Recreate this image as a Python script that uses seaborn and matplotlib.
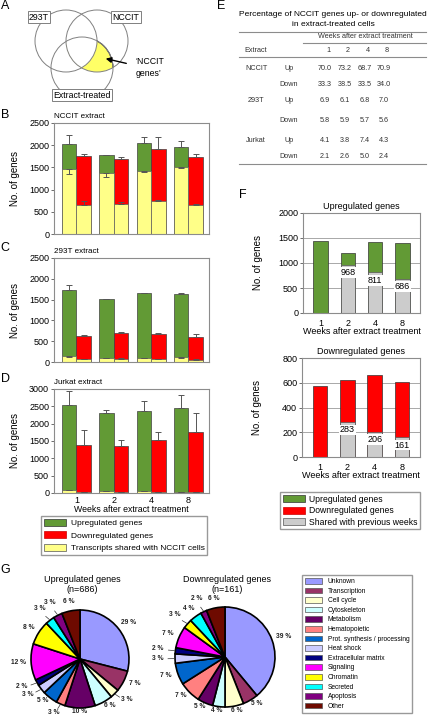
import numpy as np
import pandas as pd
import matplotlib
matplotlib.use("Agg")
import matplotlib.pyplot as plt
import seaborn as sns
from matplotlib.patches import Circle, Patch
from matplotlib.lines import Line2D

# ---------------- data ----------------
weeks = ['1', '2', '4', '8']

# B: NCCIT extract
b_up = [2035, 1775, 2045, 1960]
b_up_err = [200, 15, 135, 140]
b_up_shared = [1465, 1365, 1425, 1500]
b_up_shared_err = [105, 75, 35, 20]
b_down = [1755, 1700, 1920, 1725]
b_down_err = [50, 25, 270, 80]
b_down_shared = [648, 685, 753, 648]
b_down_shared_err = [90, 35, 20, 22]

# C: 293T extract
c_up = [1730, 1510, 1655, 1640]
c_up_err = [130, 10, 15, 8]
c_up_shared = [135, 100, 105, 110]
c_up_shared_err = [10, 10, 10, 10]
c_down = [636, 700, 668, 612]
c_down_err = [25, 15, 30, 50]
c_down_shared = [65, 80, 65, 60]
c_down_shared_err = [5, 5, 5, 5]

# D: Jurkat extract
d_up = [2530, 2310, 2360, 2450]
d_up_err = [420, 95, 280, 370]
d_up_shared = [90, 60, 60, 30]
d_up_shared_err = [10, 8, 8, 5]
d_down = [1375, 1350, 1540, 1760]
d_down_err = [450, 170, 230, 560]
d_down_shared = [30, 30, 30, 20]
d_down_shared_err = [5, 5, 5, 5]

# E: table
table_extracts = ['NCCIT', '293T', 'Jurkat']
table_dirs = ['Up', 'Down']
table_values = [
    ['70.0', '73.2', '68.7', '70.9'],
    ['33.3', '38.5', '33.5', '34.0'],
    ['6.9', '6.1', '6.8', '7.0'],
    ['5.8', '5.9', '5.7', '5.6'],
    ['4.1', '3.8', '7.4', '4.3'],
    ['2.1', '2.6', '5.0', '2.4'],
]

# F
f_up_total = [1430, 1190, 1410, 1390]
f_up_shared = [0, 968, 811, 686]
f_down_total = [570, 622, 664, 605]
f_down_shared = [0, 283, 206, 161]

# G
categories = ['Unknown', 'Transcription', 'Cell cycle', 'Cytoskeleton', 'Metabolism',
              'Hematopoietic', 'Prot. synthesis / processing', 'Heat shock',
              'Extracellular matrix', 'Signaling', 'Chromatin', 'Secreted',
              'Apoptosis', 'Other']
up_pct = [29, 7, 3, 6, 10, 3, 5, 3, 2, 12, 8, 3, 3, 6]
down_pct = [39, 5, 6, 4, 5, 7, 7, 3, 2, 7, 3, 4, 2, 6]
cat_colors = ['#9999ff', '#993366', '#ffffcc', '#ccffff', '#660066', '#ff8080',
              '#0066cc', '#ccccff', '#000080', '#ff00ff', '#ffff00', '#00ffff',
              '#800080', '#6e0a00']

GREEN = '#629a35'
RED = '#ff0000'
YELLOW = '#ffff88'
GRAY = '#cccccc'
SPINE = '#8c8c8c'

# ---------------- figure ----------------
plt.rcParams['font.family'] = ['Liberation Sans', 'DejaVu Sans']
W, H = 432, 717
fig = plt.figure(figsize=(W / 100, H / 100), dpi=100)


def fx(x):
    return x / W


def fy(y):
    return 1 - y / H


def axrect(l, t, r, b):
    return [l / W, 1 - b / H, (r - l) / W, (b - t) / H]


ov = fig.add_axes([0, 0, 1, 1])
ov.set_xlim(0, W)
ov.set_ylim(H, 0)
ov.axis('off')

# panel letters
for lab, (x, y) in {'A': (5, 6), 'B': (5, 115), 'C': (5, 248), 'D': (5, 379),
                    'E': (221, 6), 'F': (243, 195), 'G': (5, 570)}.items():
    ov.text(x, y, lab, fontsize=9, ha='center', va='center')

# ---------------- A: Venn ----------------
c293 = Circle((66, 41), 31, fill=False, ec='#808080', lw=0.7, zorder=5)
cnc = Circle((97, 41), 31, fill=False, ec='#808080', lw=0.7, zorder=5)
cex = Circle((82, 68), 31, fill=False, ec='#808080', lw=0.7, zorder=5)
for c in (c293, cnc, cex):
    ov.add_patch(c)
yel = Circle((82, 68), 31, fc='#ffff66', ec='#333333', lw=0.8, zorder=2)
ov.add_patch(yel)
yel.set_clip_path(cnc)
wh = Circle((66, 41), 31, fc='white', ec='none', zorder=3)
ov.add_patch(wh)
wh.set_clip_path(cnc)
for txt, (x, y) in {'293T': (39, 17), 'NCCIT': (126, 17), 'Extract-treated': (82, 95)}.items():
    ov.text(x, y, txt, fontsize=6.3, ha='center', va='center', zorder=6,
            bbox=dict(boxstyle='square,pad=0.15', fc='white', ec='#808080', lw=0.7))
ov.annotate('', xy=(103, 58), xytext=(129, 64),
            arrowprops=dict(arrowstyle='-|>', color='black', lw=1.0, mutation_scale=8), zorder=7)
ov.text(135, 62, '\u2018NCCIT', fontsize=6.3, ha='left', va='center')
ov.text(136, 73, 'genes\u2019', fontsize=6.3, ha='left', va='center')


# ---------------- B-D ----------------
def style_axes(ax):
    for s in ax.spines.values():
        s.set_color(SPINE)
        s.set_linewidth(0.8)
    ax.tick_params(axis='y', labelsize=6.5, length=2, width=0.6, color='#555555', pad=1.5)
    ax.tick_params(axis='x', length=0)


def grouped(rect, title, up, up_err, up_sh, up_sh_err, down, down_err, down_sh, down_sh_err,
            ymax, show_x):
    ax = fig.add_axes(axrect(*rect))
    df = pd.DataFrame({'week': weeks * 2, 'kind': ['Up'] * 4 + ['Down'] * 4, 'n': up + down})
    dfs = pd.DataFrame({'week': weeks * 2, 'kind': ['Up'] * 4 + ['Down'] * 4, 'n': up_sh + down_sh})
    sns.barplot(data=df, x='week', y='n', hue='kind', hue_order=['Up', 'Down'],
                palette={'Up': GREEN, 'Down': RED}, width=0.78, saturation=1,
                edgecolor='#404040', linewidth=0.5, errorbar=None, legend=False, ax=ax)
    sns.barplot(data=dfs, x='week', y='n', hue='kind', hue_order=['Up', 'Down'],
                palette={'Up': YELLOW, 'Down': YELLOW}, width=0.78, saturation=1,
                edgecolor='#606060', linewidth=0.5, errorbar=None, legend=False, ax=ax)
    conts = ax.containers
    specs = [(conts[0], up_err, 'up'), (conts[1], down_err, 'up'),
             (conts[2], up_sh_err, 'down'), (conts[3], down_sh_err, 'up')]
    for cont, errs, direction in specs:
        for bar, e in zip(cont, errs):
            xc = bar.get_x() + bar.get_width() / 2
            top = bar.get_height()
            yerr = [[0], [e]] if direction == 'up' else [[e], [0]]
            ax.errorbar([xc], [top], yerr=yerr, fmt='none', ecolor='#555555',
                        elinewidth=0.7, capsize=2, capthick=0.7, zorder=4)
    ax.set_xlim(-0.6, 3.55)
    ax.set_ylim(0, ymax)
    ax.set_yticks(np.arange(0, ymax + 1, 500))
    ax.set_xlabel('')
    ax.set_ylabel('No. of genes', fontsize=7)
    ax.yaxis.set_label_coords(-0.22, 0.5)
    style_axes(ax)
    ax.text(0, 1.03, title, transform=ax.transAxes, fontsize=5.8, ha='left', va='bottom')
    if show_x:
        ax.tick_params(axis='x', labelsize=6.5, pad=2)
        ax.set_xlabel('Weeks after extract treatment', fontsize=6.3)
        ax.xaxis.set_label_coords(0.5, -0.12)
    else:
        ax.tick_params(axis='x', labelbottom=False)
    return ax


grouped((54, 123, 209, 234), 'NCCIT extract', b_up, b_up_err, b_up_shared, b_up_shared_err,
        b_down, b_down_err, b_down_shared, b_down_shared_err, 2500, False)
grouped((54, 258, 209, 362), '293T extract', c_up, c_up_err, c_up_shared, c_up_shared_err,
        c_down, c_down_err, c_down_shared, c_down_shared_err, 2500, False)
grouped((54, 389, 209, 493), 'Jurkat extract', d_up, d_up_err, d_up_shared, d_up_shared_err,
        d_down, d_down_err, d_down_shared, d_down_shared_err, 3000, True)

fig.legend(handles=[Patch(fc=GREEN, ec='#333333', lw=0.5), Patch(fc=RED, ec='#cc0000', lw=0.5),
                    Patch(fc=YELLOW, ec='#555555', lw=0.5)],
           labels=['Upregulated genes', 'Downregulated genes', 'Transcripts shared with NCCIT cells'],
           loc='upper left', bbox_to_anchor=(fx(41), fy(516)), frameon=True, fancybox=False,
           edgecolor='#808080', fontsize=6, handlelength=2.6, handleheight=0.9,
           labelspacing=0.5, borderpad=0.35, handletextpad=0.6, borderaxespad=0)

# ---------------- E: table ----------------
TC = '#333333'
fig.text(fx(333), fy(14), 'Percentage of NCCIT genes up- or downregulated', fontsize=6,
         ha='center', va='center')
fig.text(fx(333), fy(24), 'in extract-treated cells', fontsize=6, ha='center', va='center')
for (x0, x1, y) in [(239, 426, 31.5), (303, 426, 43), (239, 426, 57), (239, 426, 164)]:
    fig.add_artist(Line2D([fx(x0), fx(x1)], [fy(y), fy(y)], color='#8c8c8c', lw=0.8))
fig.text(fx(365), fy(37), 'Weeks after extract treatment', fontsize=5.2, ha='center',
         va='center', color=TC)
fig.text(fx(256), fy(51), 'Extract', fontsize=5.2, ha='center', va='center', color=TC)
col_x = [325, 345, 365, 384]
for w, x in zip(weeks, col_x):
    fig.text(fx(x + 3), fy(51), w, fontsize=5.2, ha='center', va='center', color=TC)
row_y = [68, 85, 101, 121, 140, 157]
for i, (vals, y) in enumerate(zip(table_values, row_y)):
    if i % 2 == 0:
        fig.text(fx(256), fy(y), table_extracts[i // 2], fontsize=5.2, ha='center',
                 va='center', color=TC)
    fig.text(fx(289), fy(y), table_dirs[i % 2], fontsize=5.2, ha='center', va='center', color=TC)
    for v, x in zip(vals, col_x):
        fig.text(fx(x), fy(y), v, fontsize=5.2, ha='center', va='center', color=TC)


# ---------------- F ----------------
def fpanel(rect, title, total, shared, color, ymax, step):
    ax = fig.add_axes(axrect(*rect))
    ax.set_axisbelow(True)
    ax.yaxis.grid(True, color='#9a9a9a', lw=0.6)
    sns.barplot(x=weeks, y=total, color=color, width=0.53, saturation=1,
                edgecolor='#333333', linewidth=0.5, ax=ax)
    sns.barplot(x=weeks, y=shared, color=GRAY, width=0.53, saturation=1,
                edgecolor='#555555', linewidth=0.5, ax=ax)
    for bar, v in zip(ax.containers[1], shared):
        if v > 0:
            ax.annotate(str(v), (bar.get_x() + bar.get_width() / 2, v), xytext=(0, -2.5),
                        textcoords='offset points', ha='center', va='top', fontsize=6.5,
                        bbox=dict(boxstyle='square,pad=0.1', fc='white', ec='none'), zorder=5)
    ax.set_xlim(-0.65, 3.65)
    ax.set_ylim(0, ymax)
    ax.set_yticks(np.arange(0, ymax + 1, step))
    style_axes(ax)
    ax.tick_params(axis='x', labelsize=6.5, pad=4)
    ax.set_title(title, fontsize=6.5, pad=3)
    ax.set_ylabel('No. of genes', fontsize=7)
    ax.yaxis.set_label_coords(-0.34, 0.5)
    ax.set_xlabel('Weeks after extract treatment', fontsize=6.5)
    ax.xaxis.set_label_coords(0.5, -0.14)
    return ax


fpanel((303, 213, 420, 313), 'Upregulated genes', f_up_total, f_up_shared, GREEN, 2000, 500)
fpanel((302, 358, 420, 457), 'Downregulated genes', f_down_total, f_down_shared, RED, 800, 200)

fig.legend(handles=[Patch(fc=GREEN, ec='#333333', lw=0.5), Patch(fc=RED, ec='#cc0000', lw=0.5),
                    Patch(fc=GRAY, ec='#555555', lw=0.5)],
           labels=['Upregulated genes', 'Downregulated genes', 'Shared with previous weeks'],
           loc='upper left', bbox_to_anchor=(fx(280), fy(492)), frameon=True, fancybox=False,
           edgecolor='#808080', fontsize=6.2, handlelength=2.6, handleheight=0.9,
           labelspacing=0.3, borderpad=0.3, handletextpad=0.5, borderaxespad=0)


# ---------------- G: pies ----------------
def pie(cx, cy, r, pcts, title, n):
    half = r * 1.5
    ax = fig.add_axes(axrect(cx - half, cy - half, cx + half, cy + half))
    wedges, _ = ax.pie(pcts, colors=cat_colors, startangle=90, counterclock=False,
                       wedgeprops=dict(edgecolor='black', linewidth=1.2))
    for w, p in zip(wedges, pcts):
        ang = np.deg2rad((w.theta1 + w.theta2) / 2)
        ca, sa = np.cos(ang), np.sin(ang)
        extra = 0.1 if p <= 3 else 0.0
        dx = 1.25 + extra
        dy = (1.2 if sa > 0 else 1.08) + extra
        ax.text(dx * ca, dy * sa, f'{p} %', fontsize=4.8, ha='center',
                va='center', fontweight='bold', color='#222222')
        if p <= 3:
            ax.plot([1.02 * ca, 1.14 * ca], [1.02 * sa, 1.1 * sa], color='#333333', lw=0.5)
    ax.set_xlim(-1.5, 1.5)
    ax.set_ylim(-1.5, 1.5)
    ax.set_aspect('equal')
    ax.axis('off')
    fig.text(fx(cx + 2), fy(579), title, fontsize=6.5, ha='center', va='center')
    fig.text(fx(cx + 2), fy(590), f'(n={n})', fontsize=6.5, ha='center', va='center')


pie(80, 659, 49, up_pct, 'Upregulated genes', 686)
pie(225, 657, 50, down_pct, 'Downregulated genes', 161)

fig.legend(handles=[Patch(fc=c, ec='#555555', lw=0.5) for c in cat_colors], labels=categories,
           loc='upper left', bbox_to_anchor=(fx(302), fy(575)), frameon=True, fancybox=False,
           edgecolor='#808080', fontsize=4.8, handlelength=2.6, handleheight=0.9,
           labelspacing=0.38, borderpad=0.45, handletextpad=0.8, borderaxespad=0)

fig.savefig('out.png', dpi=100)
